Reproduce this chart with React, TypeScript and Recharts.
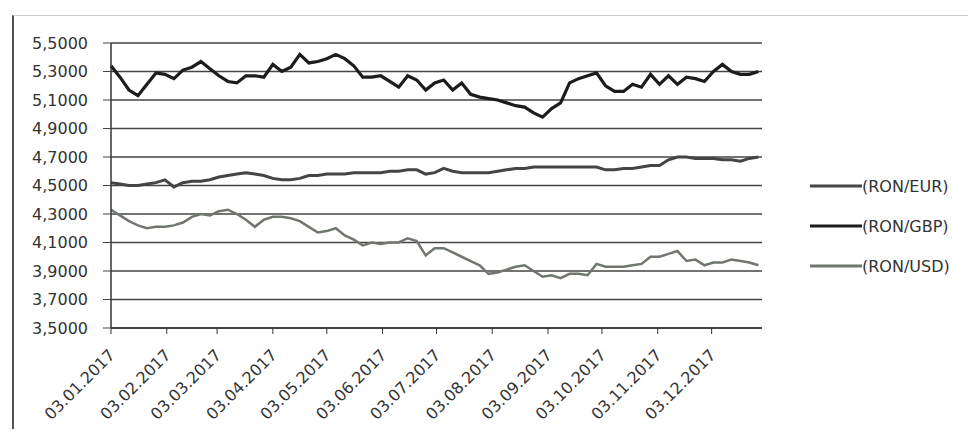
import {LineChart, Line, XAxis, YAxis, CartesianGrid, Legend} from "recharts";

// days counted from 03.01.2017, one reading every 5 days
const days = [
  0, 5, 10, 15, 20, 25, 30, 35, 40, 45, 50, 55, 60, 65, 70, 75, 80, 85, 90, 95,
  100, 105, 110, 115, 120, 125, 130, 135, 140, 145, 150, 155, 160, 165, 170, 175, 180, 185, 190, 195,
  200, 205, 210, 215, 220, 225, 230, 235, 240, 245, 250, 255, 260, 265, 270, 275, 280, 285, 290, 295,
  300, 305, 310, 315, 320, 325, 330, 335, 340, 345, 350, 355, 360,
];

const ronEur = [
  4.52, 4.51, 4.5, 4.5, 4.51, 4.52, 4.54, 4.49, 4.52, 4.53,
  4.53, 4.54, 4.56, 4.57, 4.58, 4.59, 4.58, 4.57, 4.55, 4.54,
  4.54, 4.55, 4.57, 4.57, 4.58, 4.58, 4.58, 4.59, 4.59, 4.59,
  4.59, 4.6, 4.6, 4.61, 4.61, 4.58, 4.59, 4.62, 4.6, 4.59,
  4.59, 4.59, 4.59, 4.6, 4.61, 4.62, 4.62, 4.63, 4.63, 4.63,
  4.63, 4.63, 4.63, 4.63, 4.63, 4.61, 4.61, 4.62, 4.62, 4.63,
  4.64, 4.64, 4.68, 4.7, 4.7, 4.69, 4.69, 4.69, 4.68, 4.68,
  4.67, 4.69, 4.7,
];

const ronGbp = [
  5.34, 5.26, 5.17, 5.13, 5.21, 5.29, 5.28, 5.25, 5.31, 5.33,
  5.37, 5.32, 5.27, 5.23, 5.22, 5.27, 5.27, 5.26, 5.35, 5.3,
  5.33, 5.42, 5.36, 5.37, 5.39, 5.42, 5.39, 5.34, 5.26, 5.26,
  5.27, 5.23, 5.19, 5.27, 5.24, 5.17, 5.22, 5.24, 5.17, 5.22,
  5.14, 5.12, 5.11, 5.1, 5.08, 5.06, 5.05, 5.01, 4.98, 5.04,
  5.08, 5.22, 5.25, 5.27, 5.29, 5.2, 5.16, 5.16, 5.21, 5.19,
  5.28, 5.21, 5.27, 5.21, 5.26, 5.25, 5.23, 5.3, 5.35, 5.3,
  5.28, 5.28, 5.3,
];

const ronUsd = [
  4.33, 4.29, 4.25, 4.22, 4.2, 4.21, 4.21, 4.22, 4.24, 4.28,
  4.3, 4.29, 4.32, 4.33, 4.3, 4.26, 4.21, 4.26, 4.28, 4.28,
  4.27, 4.25, 4.21, 4.17, 4.18, 4.2, 4.15, 4.12, 4.08, 4.1,
  4.09, 4.1, 4.1, 4.13, 4.11, 4.01, 4.06, 4.06, 4.03, 4.0,
  3.97, 3.94, 3.88, 3.89, 3.91, 3.93, 3.94, 3.9, 3.86, 3.87,
  3.85, 3.88, 3.88, 3.87, 3.95, 3.93, 3.93, 3.93, 3.94, 3.95,
  4.0, 4.0, 4.02, 4.04, 3.97, 3.98, 3.94, 3.96, 3.96, 3.98,
  3.97, 3.96, 3.94,
];

const tickDays = [0, 31, 59, 90, 120, 151, 181, 212, 243, 273, 304, 334];
const tickLabels = [
  "03.01.2017", "03.02.2017", "03.03.2017", "03.04.2017", "03.05.2017", "03.06.2017",
  "03.07.2017", "03.08.2017", "03.09.2017", "03.10.2017", "03.11.2017", "03.12.2017",
];
const yTicks = [3.5, 3.7, 3.9, 4.1, 4.3, 4.5, 4.7, 4.9, 5.1, 5.3, 5.5];

const data = days.map((d, i) => ({day: d, eur: ronEur[i], gbp: ronGbp[i], usd: ronUsd[i]}));

const FONT = "'DejaVu Sans', sans-serif";

const DateTick = (props: any) => {
  const {x, y, payload} = props;
  const label = tickLabels[tickDays.indexOf(payload.value)] ?? "";
  return (
    <g transform={`translate(${x + 5},${y + 20})`}>
      <text x={0} y={0} textAnchor="end" transform="rotate(-45)" fill="#333" fontSize={16} fontFamily={FONT}>
        {label}
      </text>
    </g>
  );
};

const renderLegend = (props: any) => {
  const {payload} = props;
  return (
    <div>
      {payload.map((entry: any) => (
        <div key={entry.value} style={{display: "flex", alignItems: "center", height: 40}}>
          <svg width={52} height={10}>
            <line x1={0} y1={5} x2={52} y2={5} stroke={entry.color} strokeWidth={3} />
          </svg>
          <span style={{fontFamily: FONT, fontSize: 16, color: "#333"}}>{entry.value}</span>
        </div>
      ))}
    </div>
  );
};

const App = () => {
  return (
    <div style={{position: "relative", width: 976, height: 437, margin: -8, background: "#fff"}}>
      <div
        style={{
          position: "absolute",
          left: 12,
          top: 15,
          width: 960,
          height: 420,
          borderLeft: "2px solid #555",
          borderTop: "1px solid #ccc",
          borderBottom: "1px solid #ddd",
        }}
      />
      <LineChart width={976} height={437} data={data} margin={{top: 43, right: 214, bottom: 9, left: 0}}>
        <CartesianGrid horizontal vertical={false} stroke="#444" strokeWidth={1.3} />
        <XAxis
          dataKey="day"
          type="number"
          domain={[0, 362]}
          ticks={tickDays}
          interval={0}
          height={100}
          tick={<DateTick />}
          axisLine={{stroke: "#333", strokeWidth: 1.5}}
          tickLine={{stroke: "#333"}}
          tickSize={6}
        />
        <YAxis
          type="number"
          domain={[3.5, 5.5]}
          ticks={yTicks}
          width={111}
          tickSize={8}
          tickMargin={15}
          tickFormatter={(v: number) => v.toFixed(4).replace(".", ",")}
          tick={{fill: "#333", fontSize: 16, fontFamily: FONT}}
          axisLine={{stroke: "#333", strokeWidth: 1.5}}
          tickLine={{stroke: "#444"}}
        />
        <Legend
          layout="vertical"
          align="center"
          verticalAlign="middle"
          content={renderLegend}
          wrapperStyle={{left: 810, top: 166, width: 166}}
        />
        <Line type="linear" dataKey="eur" name="(RON/EUR)" stroke="#454545" strokeWidth={3} dot={false} isAnimationActive={false} />
        <Line type="linear" dataKey="gbp" name="(RON/GBP)" stroke="#1c1c1c" strokeWidth={3.2} dot={false} isAnimationActive={false} />
        <Line type="linear" dataKey="usd" name="(RON/USD)" stroke="#6f776f" strokeWidth={2.5} dot={false} isAnimationActive={false} />
      </LineChart>
    </div>
  );
};

export default App;
